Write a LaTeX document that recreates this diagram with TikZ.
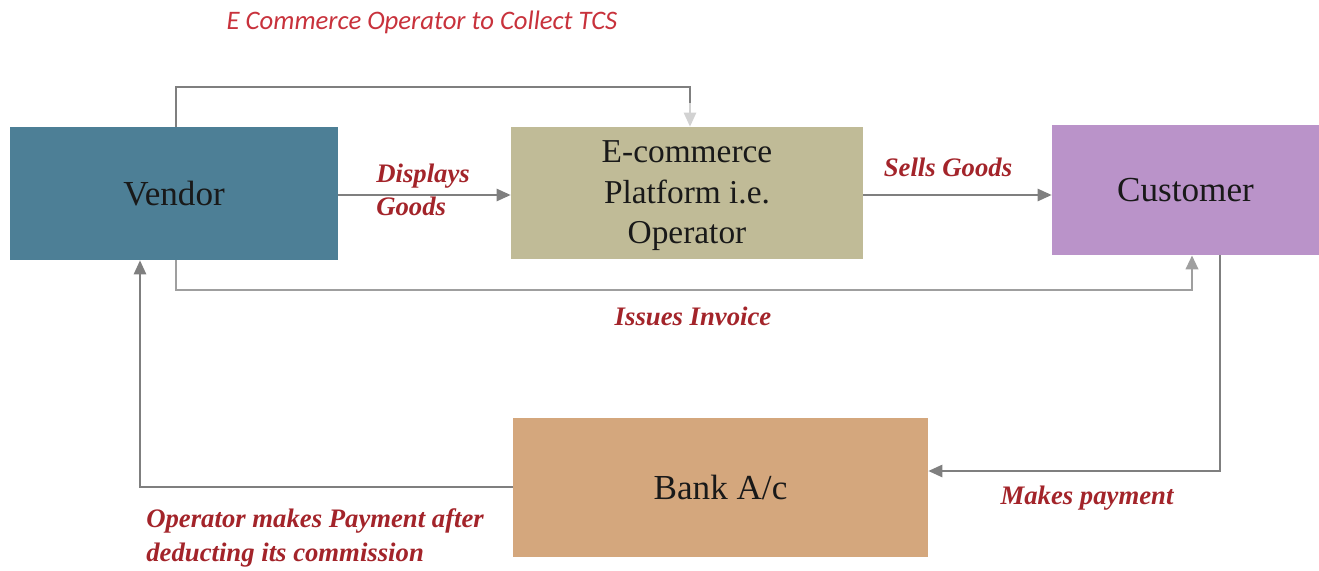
\documentclass[tikz,border=0pt]{standalone}
\usepackage{fontspec}
\setmainfont{Liberation Serif}
\newfontfamily\titlefont{Carlito}
\usetikzlibrary{arrows.meta}

\definecolor{vendorcol}{HTML}{4D7F96}
\definecolor{platformcol}{HTML}{C0BB97}
\definecolor{customercol}{HTML}{BA93C9}
\definecolor{bankcol}{HTML}{D4A77D}
\definecolor{linkcol}{HTML}{7F7F7F}
\definecolor{labelcol}{HTML}{A3242A}
\definecolor{titlecol}{HTML}{C8323C}

\begin{document}
\begin{tikzpicture}[x=0.02cm,y=-0.02cm,
  box/.style={draw=none,inner sep=0pt,align=center,font=\fontsize{20}{23}\selectfont,text=black!90},
  link/.style={draw=linkcol,line width=1.1pt},
  flow/.style={link,-{Triangle[length=8pt,width=7pt]}},
  lbl/.style={text=labelcol,font=\fontsize{15.2}{19}\selectfont\bfseries\itshape,inner sep=0pt},
]
\useasboundingbox (0,0) rectangle (1319,571);

% boxes
\node[box,fill=vendorcol,minimum width=328*0.02cm,minimum height=133*0.02cm] (vendor) at (174,193.5) {Vendor};
\node[box,fill=platformcol,minimum width=352*0.02cm,minimum height=132*0.02cm] (platform) at (687,193) {};
\node[box,font=\fontsize{19}{23}\selectfont] (platformtext) at (687,196) {E-commerce\\Platform i.e.\\Operator};
\node[box,fill=customercol,minimum width=267*0.02cm,minimum height=130*0.02cm] (customer) at (1185.5,190) {Customer};
\node[box,fill=bankcol,minimum width=415*0.02cm,minimum height=139*0.02cm] (bank) at (720.5,487.5) {Bank A/c};

% corner points of the routed connectors
\coordinate (tcsA) at (176,87);
\coordinate (tcsB) at (690,87);
\coordinate (tcsC) at (690,103);
\coordinate (mid) at (0,195);
\coordinate (invA) at (176,290);
\coordinate (invB) at (1192,290);
\coordinate (payA) at (1220,471);
\coordinate (payB) at (928,471);
\coordinate (retA) at (140,487);

% connectors
\draw[link] (vendor.north -| tcsA) -- (tcsA) -- (tcsB) -- (tcsC);
\draw[flow,draw=linkcol!35] (tcsC) -- (platform.north -| tcsC);
\draw[flow] (vendor.east |- mid) -- (platform.west |- mid);
\draw[flow] (platform.east |- mid) -- (customer.west |- mid);
\draw[flow,draw=linkcol!75,line width=1.6pt] (vendor.south -| invA) -- (invA) -- (invB) -- (customer.south -| invB);
\draw[flow] (customer.south -| payA) -- (payA) -- (bank.east |- payB);
\draw[flow] (bank.west |- retA) -- (retA) -- (vendor.south -| retA);

% labels
\node[text=titlecol,font=\titlefont\fontsize{15.2}{18}\selectfont\itshape,inner sep=0pt] (title) at (422,22) {E Commerce Operator to Collect TCS};
\node[lbl,anchor=west,align=left] (disp) at (376,190) {Displays\\Goods};
\node[lbl] (sells) at (948,167) {Sells Goods};
\node[lbl] (inv) at (693,316) {Issues Invoice};
\node[lbl] (mkpay) at (1087,498) {Makes payment};
\node[lbl,anchor=west,align=left] (oppay) at (146,538) {Operator makes Payment after\\deducting its commission};
\end{tikzpicture}
\end{document}
